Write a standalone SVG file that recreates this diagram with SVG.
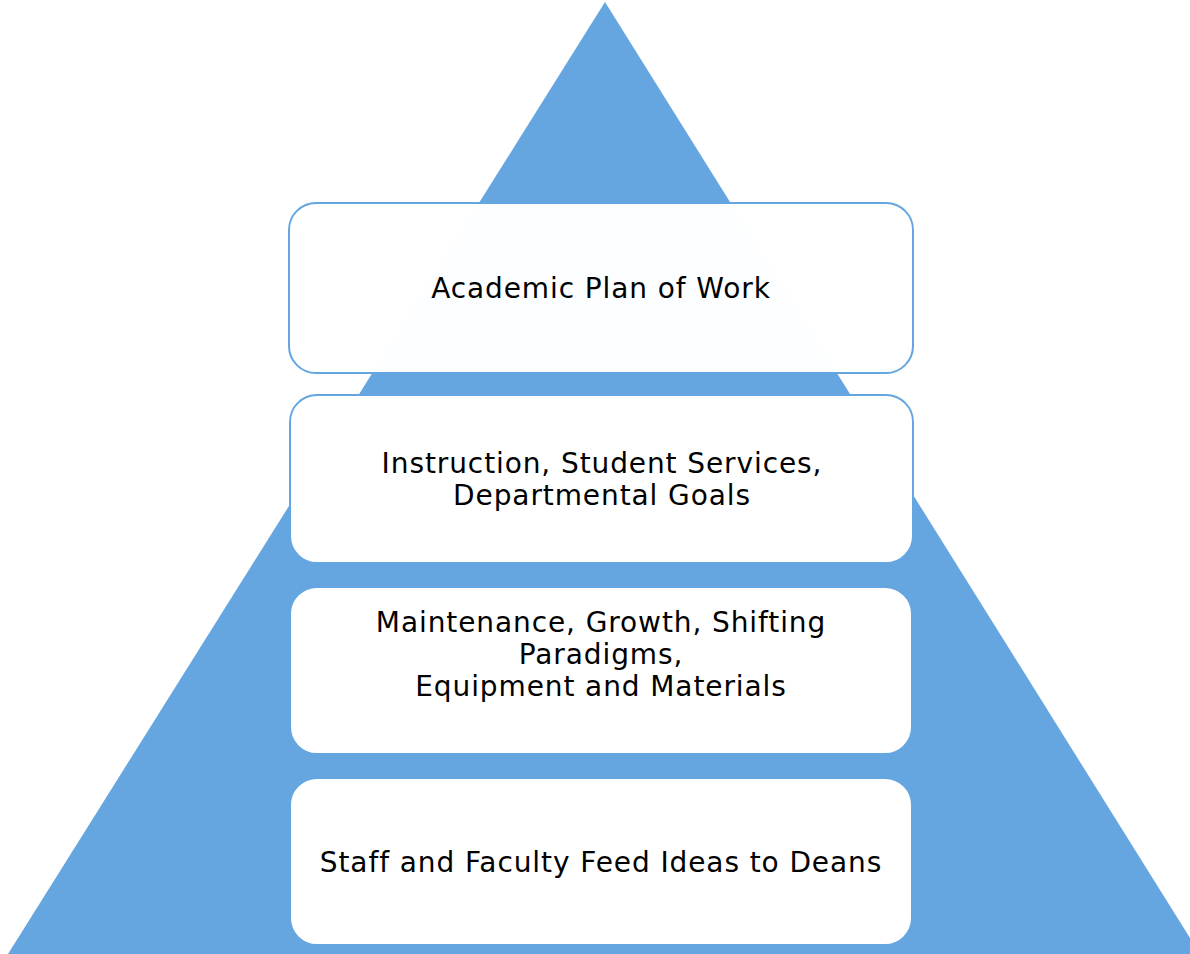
<svg xmlns="http://www.w3.org/2000/svg" width="1190" height="954" viewBox="0 0 1190 954">
<style>
.box{fill:#ffffff;stroke:#65A6E0;stroke-width:2}
.lbl{font-family:"DejaVu Sans",Verdana,sans-serif;font-size:28px;letter-spacing:0.9px;fill:#000;text-anchor:middle}
</style>
<rect width="1190" height="954" fill="#ffffff"/>
<g id="pyramid">
<polygon points="605,2 8,954 1200,954" fill="#65A6E0"/>
</g>
<g id="connectors"/>
<g id="node1">
<rect class="box" x="289" y="203" width="624" height="170" rx="27" fill-opacity="0.985"/>
<text class="lbl" x="601" y="298">Academic Plan of Work</text>
</g>
<g id="node2">
<rect class="box" x="290" y="395" width="623" height="168" rx="27"/>
<text class="lbl" x="602" y="473">Instruction, Student Services,</text>
<text class="lbl" x="602" y="505">Departmental Goals</text>
</g>
<g id="node3">
<rect class="box" x="290" y="587" width="622" height="167" rx="27"/>
<text class="lbl" x="601" y="632">Maintenance, Growth, Shifting</text>
<text class="lbl" x="601" y="664">Paradigms,</text>
<text class="lbl" x="601" y="696">Equipment and Materials</text>
</g>
<g id="node4">
<rect class="box" x="290" y="778" width="622" height="167" rx="27"/>
<text class="lbl" x="601" y="872">Staff and Faculty Feed Ideas to Deans</text>
</g>
</svg>
